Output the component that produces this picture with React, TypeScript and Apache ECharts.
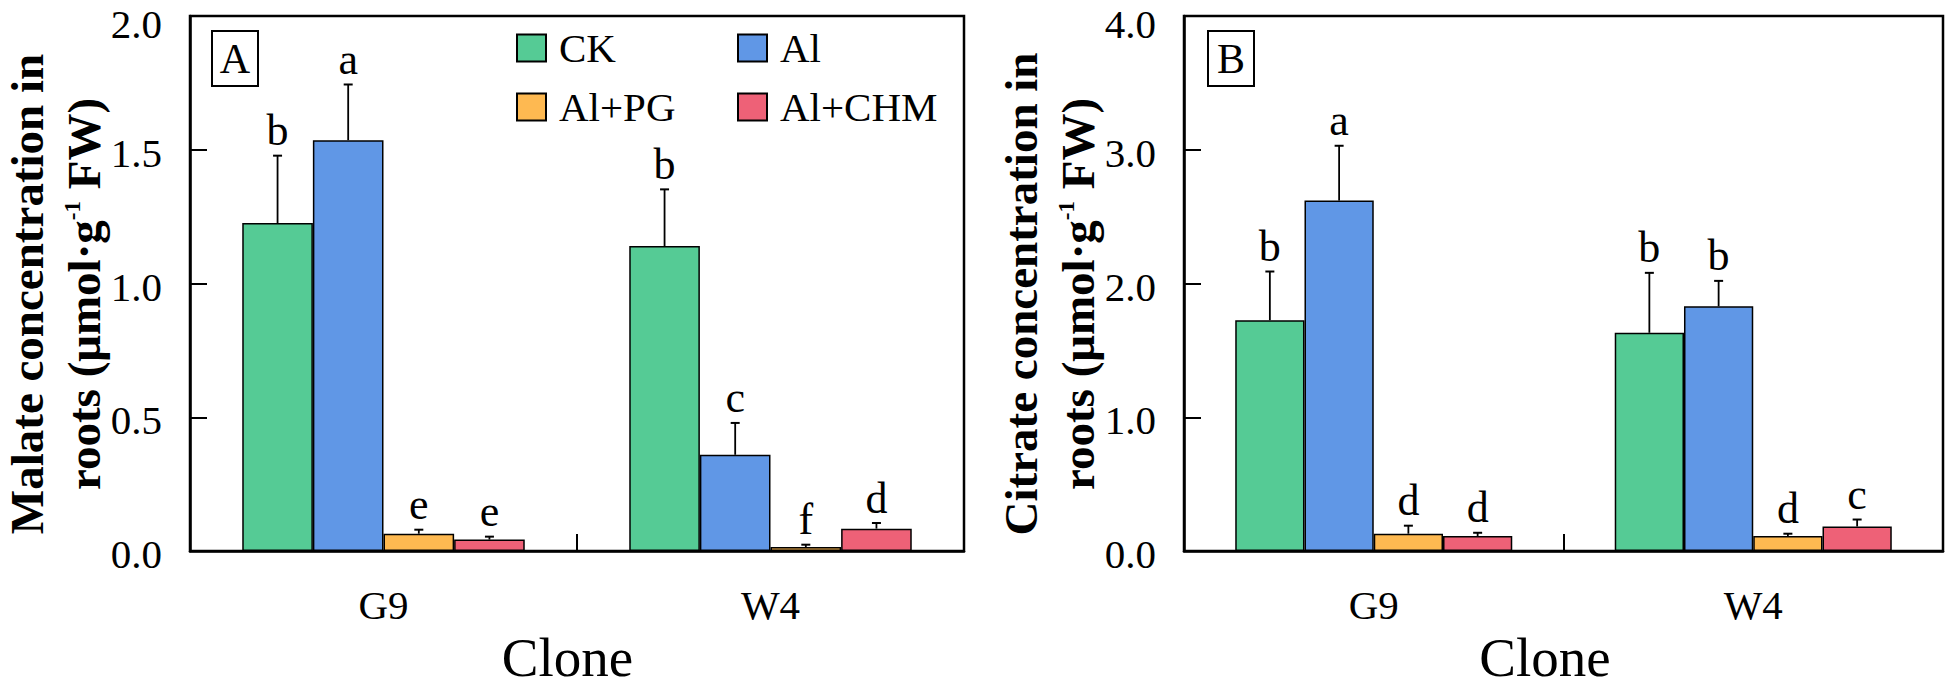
import React, { useEffect, useRef } from 'react';
import * as echarts from 'echarts';

const FONT = '"Liberation Serif", "Times New Roman", Times, serif';

const categories = ['G9', 'W4'];
const seriesNames = ['CK', 'Al', 'Al+PG', 'Al+CHM'];
const colors = ['#55CB95', '#6097E6', '#FEB951', '#EE6177'];

// Panel A: malate (per series: [G9, W4])
const malateMean = [
  [1.226, 1.14],
  [1.536, 0.36],
  [0.065, 0.015],
  [0.043, 0.084],
];
const malateErr = [
  [0.252, 0.212],
  [0.208, 0.119],
  [0.015, 0.009],
  [0.011, 0.021],
];
const malateLetters = [
  ['b', 'b'],
  ['a', 'c'],
  ['e', 'f'],
  ['e', 'd'],
];

// Panel B: citrate
const citrateMean = [
  [1.726, 1.632],
  [2.62, 1.83],
  [0.13, 0.113],
  [0.113, 0.184],
];
const citrateErr = [
  [0.364, 0.448],
  [0.41, 0.19],
  [0.06, 0.017],
  [0.024, 0.052],
];
const citrateLetters = [
  ['b', 'b'],
  ['a', 'b'],
  ['d', 'd'],
  ['d', 'c'],
];

const malateAxis = { min: 0, max: 2, interval: 0.5 };
const citrateAxis = { min: 0, max: 4, interval: 1 };

const CAT_GAP = 0.27;

function barSeries(gridIdx: number, means: number[][]) {
  return means.map((vals, k) => ({
    type: 'bar',
    name: seriesNames[k],
    xAxisIndex: gridIdx,
    yAxisIndex: gridIdx,
    data: vals,
    barGap: '0%',
    barCategoryGap: CAT_GAP * 100 + '%',
    itemStyle: { color: colors[k], borderColor: '#000', borderWidth: 1.5 },
    silent: true,
  }));
}

function errSeries(gridIdx: number, means: number[][], errs: number[][], letters: string[][]) {
  const data: number[][] = [];
  const labels: string[] = [];
  means.forEach((vals, k) => {
    vals.forEach((m, c) => {
      data.push([c, k, m, errs[k][c]]);
      labels.push(letters[k][c]);
    });
  });
  return {
    type: 'custom',
    xAxisIndex: gridIdx,
    yAxisIndex: gridIdx,
    silent: true,
    z: 5,
    encode: { x: 0, y: 2 },
    data,
    renderItem: (params: any, api: any) => {
      const c = api.value(0);
      const k = api.value(1);
      const m = api.value(2);
      const e = api.value(3);
      const base = api.coord([c, m]);
      const top = api.coord([c, m + e]);
      const band = api.size([1, 0])[0];
      const bw = (band * (1 - CAT_GAP)) / 4;
      const cx = base[0] - 2 * bw + (k + 0.5) * bw;
      return {
        type: 'group',
        children: [
          {
            type: 'line',
            shape: { x1: cx, y1: base[1], x2: cx, y2: top[1] },
            style: { stroke: '#000', lineWidth: 1.8 },
          },
          {
            type: 'line',
            shape: { x1: cx - 4.5, y1: top[1], x2: cx + 4.5, y2: top[1] },
            style: { stroke: '#000', lineWidth: 2 },
          },
          {
            type: 'text',
            style: {
              text: labels[params.dataIndex],
              x: cx,
              y: top[1] - 3,
              align: 'center',
              textAlign: 'center',
              verticalAlign: 'bottom',
              textVerticalAlign: 'bottom',
              fontSize: 44,
              fontFamily: FONT,
              fill: '#000',
            },
          },
        ],
      };
    },
  };
}

function yName(axisX: number, y: number, first: string) {
  const common = {
    align: 'center',
    textAlign: 'center',
    verticalAlign: 'middle',
    textVerticalAlign: 'middle',
  };
  return [
    {
      type: 'text',
      x: axisX - 163,
      y,
      rotation: Math.PI / 2,
      style: {
        ...common,
        text: first,
        fontSize: 47,
        fontWeight: 'bold',
        fontFamily: FONT,
        lineHeight: 47,
        fill: '#000',
      },
    },
    {
      type: 'text',
      x: axisX - 106,
      y,
      rotation: Math.PI / 2,
      style: {
        ...common,
        text: '{b|roots (μmol·g}{s|-1}{b| FW)}',
        rich: {
          b: { fontSize: 47, fontWeight: 'bold', fontFamily: FONT, lineHeight: 47, fill: '#000' },
          s: {
            fontSize: 23,
            fontWeight: 'bold',
            fontFamily: FONT,
            lineHeight: 20,
            verticalAlign: 'top',
            fill: '#000',
          },
        },
      },
    },
  ];
}

function panelLabel(x: number, y: number, t: string) {
  return [
    {
      type: 'rect',
      shape: { x, y, width: 46, height: 55 },
      style: { fill: '#fff', stroke: '#000', lineWidth: 2 },
      z: 10,
    },
    {
      type: 'text',
      x: x + 23,
      y: y + 28,
      z: 11,
      style: {
        text: t,
        align: 'center',
        textAlign: 'center',
        verticalAlign: 'middle',
        textVerticalAlign: 'middle',
        fontSize: 42,
        fontFamily: FONT,
        fill: '#000',
      },
    },
  ];
}

function xAxisCfg(gridIdx: number, shift: number) {
  return {
    type: 'category',
    gridIndex: gridIdx,
    data: categories,
    name: 'Clone',
    nameLocation: 'middle',
    nameGap: 63,
    nameTextStyle: { fontSize: 55, fontFamily: FONT, color: '#000', padding: [0, shift * 2, 0, 0] },
    axisLine: { show: true, lineStyle: { color: '#000', width: 2.5 } },
    axisTick: { show: true, inside: true, length: 17, lineStyle: { color: '#000', width: 2 } },
    axisLabel: { fontSize: 41, fontFamily: FONT, color: '#000', margin: 33 },
    splitLine: { show: false },
  };
}

function yAxisCfg(gridIdx: number, ax: { min: number; max: number; interval: number }) {
  return {
    type: 'value',
    gridIndex: gridIdx,
    min: ax.min,
    max: ax.max,
    interval: ax.interval,
    axisLine: { show: true, lineStyle: { color: '#000', width: 2.5 } },
    axisTick: { show: true, inside: true, length: 17, lineStyle: { color: '#000', width: 2 } },
    axisLabel: {
      fontSize: 41,
      fontFamily: FONT,
      color: '#000',
      margin: 28,
      padding: [6, 0, 0, 0],
      formatter: (v: number) => (v >= ax.max ? `{top|${v.toFixed(1)}}` : v.toFixed(1)),
      rich: {
        top: { fontSize: 41, fontFamily: FONT, color: '#000', padding: [10, 0, 0, 0] },
      },
    },
    splitLine: { show: false },
  };
}

const legendCommon = {
  orient: 'vertical',
  top: 27.5,
  padding: 0,
  itemWidth: 29,
  itemHeight: 27,
  itemGap: 18,
  icon: 'rect',
  selectedMode: false,
  textStyle: { fontSize: 41, fontFamily: FONT, color: '#000', lineHeight: 30, padding: [0, 0, 0, 8] },
};

export default function App() {
  const ref = useRef<HTMLDivElement>(null);
  useEffect(() => {
    if (!ref.current) return;
    const chart = echarts.init(ref.current, undefined, { renderer: 'svg' });
    chart.setOption({
      animation: false,
      backgroundColor: '#fff',
      textStyle: { fontFamily: FONT },
      grid: [
        { left: 190, top: 16, width: 774, height: 561, show: true, borderColor: '#000', borderWidth: 2.5, backgroundColor: 'transparent' },
        { left: 1184, top: 16, width: 759, height: 561, show: true, borderColor: '#000', borderWidth: 2.5, backgroundColor: 'transparent' },
      ],
      legend: [
        { ...legendCommon, left: 516, data: ['CK', 'Al+PG'] },
        { ...legendCommon, left: 737, data: ['Al', 'Al+CHM'] },
      ],
      xAxis: [xAxisCfg(0, 9.5), xAxisCfg(1, 18.5)],
      yAxis: [yAxisCfg(0, malateAxis), yAxisCfg(1, citrateAxis)],
      series: [
        ...barSeries(0, malateMean),
        ...barSeries(1, citrateMean),
        errSeries(0, malateMean, malateErr, malateLetters),
        errSeries(1, citrateMean, citrateErr, citrateLetters),
      ],
      graphic: [
        ...yName(190, 294, 'Malate concentration in'),
        ...yName(1184, 294, 'Citrate concentration in'),
        ...panelLabel(212, 31, 'A'),
        ...panelLabel(1208, 31, 'B'),
      ],
    });
    return () => chart.dispose();
  }, []);
  return (
    <div
      ref={ref}
      style={{ position: 'absolute', left: 0, top: 0, width: 1946, height: 690, background: '#fff' }}
    />
  );
}
